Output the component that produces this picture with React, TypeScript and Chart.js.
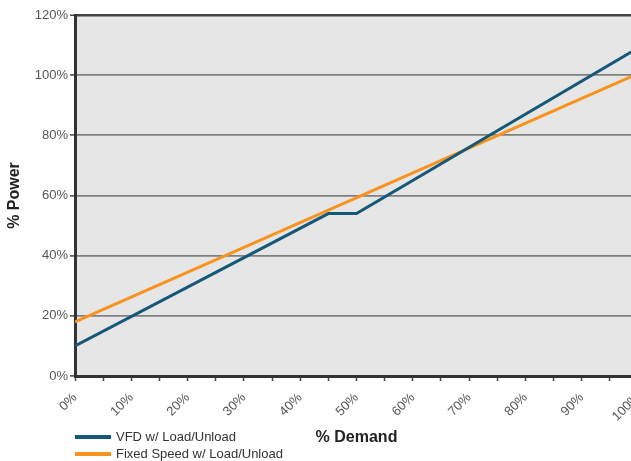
import React, { useEffect, useRef } from "react";
import { Chart, registerables } from "chart.js";

Chart.register(...registerables);

const seriesLabels = ["VFD w/ Load/Unload", "Fixed Speed w/ Load/Unload"];
const seriesColors = ["#165878", "#f7931e"];
const vfdDemand = [0, 45, 50, 100];
const vfdPower = [10, 54, 54, 109];
const fixedDemand = [0, 100];
const fixedPower = [18, 100.5];
const xTitle = "% Demand";
const yTitle = "% Power";

const FONT = "'Liberation Sans', Arial, Helvetica, sans-serif";

const bgPlugin = {
  id: "plotBg",
  beforeDraw(chart: any) {
    const { ctx, chartArea } = chart;
    if (!chartArea) return;
    ctx.save();
    ctx.fillStyle = "#e6e6e6";
    ctx.fillRect(chartArea.left, chartArea.top, chartArea.right - chartArea.left, chartArea.bottom - chartArea.top);
    ctx.restore();
  },
};

export default function App() {
  const ref = useRef<HTMLCanvasElement | null>(null);
  useEffect(() => {
    if (!ref.current) return;
    const chart = new Chart(ref.current, {
      type: "line",
      data: {
        datasets: [
          {
            label: seriesLabels[0],
            data: vfdDemand.map((x, i) => ({ x, y: vfdPower[i] })),
            borderColor: seriesColors[0],
            backgroundColor: seriesColors[0],
            borderWidth: 3,
            pointRadius: 0,
            tension: 0,
          },
          {
            label: seriesLabels[1],
            data: fixedDemand.map((x, i) => ({ x, y: fixedPower[i] })),
            borderColor: seriesColors[1],
            backgroundColor: seriesColors[1],
            borderWidth: 3,
            pointRadius: 0,
            tension: 0,
          },
        ],
      },
      options: {
        responsive: false,
        animation: false,
        devicePixelRatio: 1,
        layout: { padding: { left: 0, right: 22, top: 15, bottom: 14 } },
        plugins: {
          legend: { display: false },
          tooltip: { enabled: false },
          title: { display: false },
        },
        scales: {
          x: {
            type: "linear",
            min: 0,
            max: 100,
            afterFit(scale: any) {
              scale.height = 71;
            },
            ticks: {
              stepSize: 5,
              autoSkip: false,
              minRotation: 45,
              maxRotation: 45,
              color: "#555",
              font: { family: FONT, size: 13 },
              padding: 9,
              callback: (v: any) => (Number(v) % 10 === 0 ? v + "%" : ""),
            },
            grid: {
              drawOnChartArea: false,
              drawTicks: true,
              tickLength: 5,
              tickColor: "#444",
              tickWidth: 1.5,
            },
            border: { display: true, color: "#333", width: 3 },
            title: {
              display: true,
              text: xTitle,
              color: "#222",
              font: { family: FONT, size: 16, weight: "bold" },
              padding: { top: 0, bottom: 0 },
            },
          },
          y: {
            min: 0,
            max: 120,
            afterFit(scale: any) {
              scale.width = 75;
            },
            ticks: {
              stepSize: 20,
              color: "#555",
              font: { family: FONT, size: 13 },
              padding: 2,
              callback: (v: any) => v + "%",
            },
            grid: {
              color: (c: any) => (c.tick && c.tick.value === 120 ? "#444" : "#808080"),
              lineWidth: (c: any) => (c.tick && c.tick.value === 120 ? 2.5 : 1.8),
              drawTicks: true,
              tickLength: 5,
              tickColor: "#444",
              tickWidth: 1.5,
            },
            border: { display: true, color: "#333", width: 3 },
            title: {
              display: true,
              text: yTitle,
              color: "#222",
              font: { family: FONT, size: 16, weight: "bold" },
              padding: { top: 5, bottom: 0 },
            },
          },
        },
      },
      plugins: [bgPlugin],
    });
    return () => chart.destroy();
  }, []);

  return (
    <div
      style={{
        position: "absolute",
        left: 0,
        top: 0,
        width: 631,
        height: 461,
        overflow: "hidden",
        background: "#fff",
      }}
    >
      <canvas ref={ref} width={660} height={461} style={{ display: "block" }} />
      <div
        style={{
          position: "absolute",
          left: 75,
          top: 428,
          fontFamily: FONT,
          fontSize: 13,
          color: "#333",
          lineHeight: "17px",
        }}
      >
        {seriesLabels.map((lab, i) => (
          <div key={lab} style={{ display: "flex", alignItems: "center", height: 17 }}>
            <span
              style={{
                display: "inline-block",
                width: 36,
                height: 4,
                background: seriesColors[i],
                marginRight: 5,
              }}
            />
            <span>{lab}</span>
          </div>
        ))}
      </div>
    </div>
  );
}
